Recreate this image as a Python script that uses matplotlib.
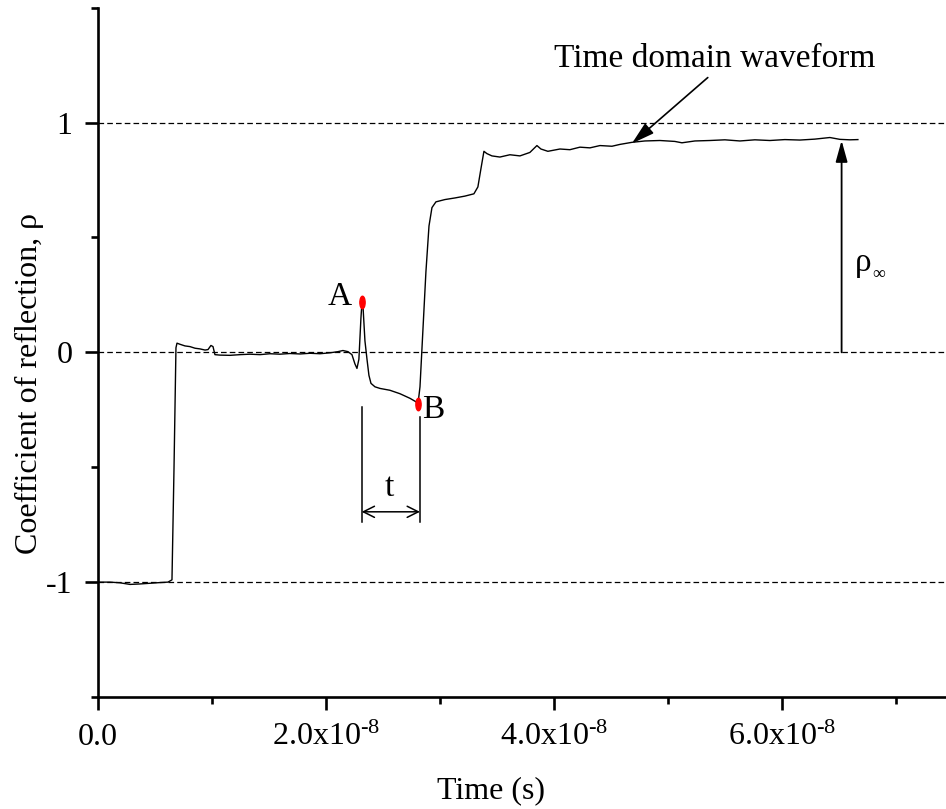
import numpy as np
import matplotlib
matplotlib.use("Agg")
import matplotlib.pyplot as plt
from matplotlib.path import Path
from matplotlib.transforms import Affine2D
from matplotlib.ticker import MultipleLocator, FuncFormatter

plt.rcParams['font.family'] = ['Liberation Serif', 'DejaVu Serif']
plt.rcParams['mathtext.fontset'] = 'custom'
plt.rcParams['mathtext.rm'] = 'Liberation Serif'
plt.rcParams['mathtext.default'] = 'regular'
plt.rcParams['axes.unicode_minus'] = False

# time in units of 1e-8 s, reflection coefficient
time_e8 = [0.0, 0.105, 0.193, 0.281, 0.368, 0.456, 0.544, 0.614, 0.649, 0.667,
           0.684, 0.693, 0.72, 0.763, 0.807, 0.851, 0.895, 0.939, 0.965, 0.991,
           1.009, 1.026, 1.07, 1.158, 1.246, 1.333, 1.421, 1.509, 1.596, 1.684,
           1.772, 1.86, 1.947, 2.035, 2.105, 2.149, 2.193, 2.228, 2.254, 2.272,
           2.289, 2.307, 2.316, 2.325, 2.342, 2.36, 2.377, 2.395, 2.43, 2.474,
           2.561, 2.649, 2.737, 2.789, 2.807, 2.825, 2.851, 2.877, 2.904, 2.93,
           2.965, 3.044, 3.132, 3.219, 3.298, 3.333, 3.36, 3.386, 3.412, 3.456,
           3.526, 3.614, 3.702, 3.789, 3.851, 3.886, 3.947, 4.053, 4.14, 4.228,
           4.316, 4.404, 4.509, 4.579, 4.684, 4.798, 4.93, 5.061, 5.123, 5.237,
           5.368, 5.5, 5.632, 5.763, 5.895, 6.026, 6.158, 6.289, 6.421, 6.509,
           6.596, 6.667]
rho = [-1.0, -1.0, -1.003, -1.01, -1.008, -1.005, -1.002, -1.0, -0.99, -0.5,
       0.02, 0.04, 0.035, 0.028, 0.025, 0.018, 0.015, 0.01, 0.012, 0.03,
       0.025, -0.01, -0.012, -0.013, -0.01, -0.008, -0.01, -0.006, -0.008, -0.005,
       -0.007, -0.004, -0.006, -0.002, 0.003, 0.008, 0.003, -0.01, -0.05, -0.07,
       -0.03, 0.15, 0.217, 0.2, 0.05, -0.03, -0.1, -0.135, -0.15, -0.157,
       -0.165, -0.18, -0.2, -0.215, -0.226, -0.15, 0.1, 0.35, 0.55, 0.63,
       0.655, 0.665, 0.672, 0.68, 0.69, 0.72, 0.8, 0.875, 0.865, 0.855,
       0.85, 0.86, 0.855, 0.87, 0.9, 0.885, 0.875, 0.885, 0.882, 0.893,
       0.89, 0.9, 0.897, 0.905, 0.914, 0.92, 0.922, 0.918, 0.912, 0.92,
       0.922, 0.925, 0.92, 0.925, 0.922, 0.926, 0.924, 0.928, 0.935, 0.927,
       0.925, 0.926]

point_a = (2.316e-8, 0.217)
point_b = (2.807e-8, -0.226)
rho_inf = 0.922
ref_levels = [1, 0, -1]

t = np.array(time_e8) * 1e-8

fig = plt.figure(figsize=(9.46, 8.09), dpi=100)
ax = fig.add_axes([98 / 946, 112 / 809, 848 / 946, 689.3 / 809])

for lvl in ref_levels:
    ax.axhline(lvl, color='black', lw=0.9, linestyle=(0, (4.5, 2.5)), zorder=1)

ax.plot(t, rho, color='black', lw=1.0, zorder=3)

# red elliptical markers at A and B
ell = Path.unit_circle().transformed(Affine2D().scale(0.42, 1.0))
ax.plot([point_a[0], point_b[0]], [point_a[1], point_b[1]], linestyle='none',
        marker=ell, markersize=9, color='red', zorder=4)
ax.text(2.12e-8, 0.24, 'A', fontsize=24, ha='center', va='center')
ax.text(2.94e-8, -0.248, 'B', fontsize=24, ha='center', va='center')

# time interval t
ax.plot([2.313e-8, 2.313e-8], [-0.239, -0.738], color='black', lw=1.1)
ax.plot([2.825e-8, 2.825e-8], [-0.283, -0.738], color='black', lw=1.1)
ax.annotate('', xy=(2.825e-8, -0.694), xytext=(2.313e-8, -0.694),
            arrowprops=dict(arrowstyle='<->', lw=1.1, color='black',
                            shrinkA=0, shrinkB=0, mutation_scale=20))
ax.text(2.56e-8, -0.59, 't', fontsize=24, ha='center', va='center')

# rho infinity arrow
ax.annotate('', xy=(6.524e-8, rho_inf), xytext=(6.524e-8, 0),
            arrowprops=dict(arrowstyle='-|>,head_length=0.65,head_width=0.18',
                            lw=1.3, color='black',
                            shrinkA=0, shrinkB=0, mutation_scale=20))
ax.text(6.64e-8, 0.39, 'ρ', fontsize=24, ha='left', va='center')
ax.text(6.79e-8, 0.34, '∞', fontsize=13, ha='left', va='center')

# waveform label and arrow
ax.text(5.41e-8, 1.278, 'Time domain waveform', fontsize=24,
        ha='center', va='center')
ax.annotate('', xy=(4.684e-8, 0.909), xytext=(5.35e-8, 1.196),
            arrowprops=dict(arrowstyle='-|>,head_length=0.7,head_width=0.2',
                            lw=1.2, color='black',
                            shrinkA=0, shrinkB=0, mutation_scale=20))

ax.set_xlim(0, 7.44e-8)
ax.set_ylim(-1.5, 1.5)
ax.xaxis.set_major_locator(MultipleLocator(2e-8))
ax.xaxis.set_minor_locator(MultipleLocator(1e-8))
ax.yaxis.set_major_locator(MultipleLocator(1))
ax.yaxis.set_minor_locator(MultipleLocator(0.5))


def xfmt(v, pos):
    if abs(v) < 1e-12:
        return '0.0'
    return r'%.1fx10$^{\text{-8}}$' % (v / 1e-8)


ax.xaxis.set_major_formatter(FuncFormatter(xfmt))
ax.yaxis.set_major_formatter(FuncFormatter(lambda v, p: '%d' % round(v)))

for side in ['top', 'right']:
    ax.spines[side].set_visible(False)
for side in ['left', 'bottom']:
    ax.spines[side].set_linewidth(1.9)

ax.tick_params(which='major', direction='out', length=9.5, width=1.9,
               labelsize=23, pad=9)
ax.tick_params(which='minor', direction='out', length=5, width=1.9)

ax.set_xlabel('Time (s)', fontsize=23)
ax.xaxis.set_label_coords((491 - 98) / 848, -0.115)
ax.set_ylabel('Coefficient of reflection, ρ', fontsize=23)
ax.yaxis.set_label_coords(-0.064, 0.455)

fig.savefig('out.png', dpi=100)
